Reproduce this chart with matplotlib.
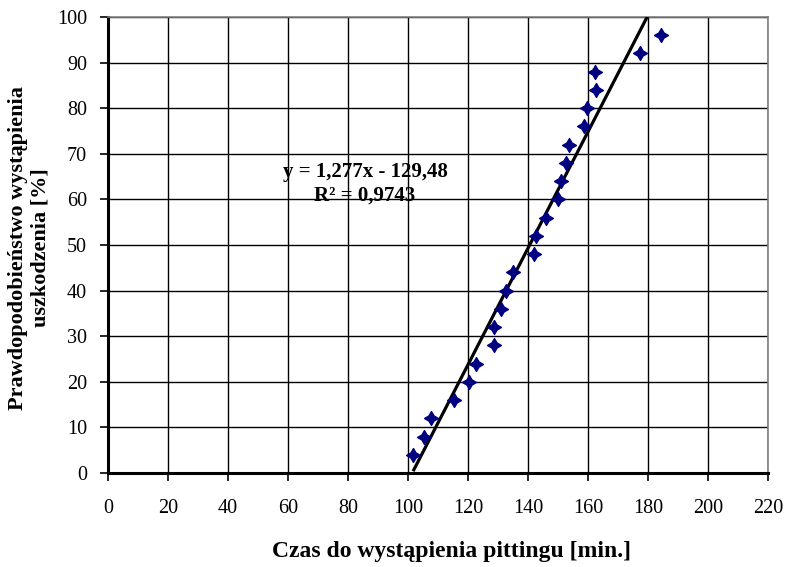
import numpy as np
import matplotlib
matplotlib.use("Agg")
import matplotlib.pyplot as plt
from matplotlib.path import Path

# Data
czas = [101.7, 105.3, 107.8, 115.2, 120.3, 122.8, 128.5, 128.5, 130.9, 132.8,
        135.0, 141.9, 142.8, 146.1, 150.0, 150.9, 152.8, 153.5, 158.7, 159.8,
        162.6, 162.4, 177.4, 184.2]
prawd = [4, 8, 12, 16, 20, 24, 28, 32, 36, 40, 44, 48, 52, 56, 60, 64, 68, 72,
         76, 80, 84, 88, 92, 96]
slope = 1.277
intercept = -129.48
x_ticks = list(range(0, 221, 20))
y_ticks = list(range(0, 101, 10))
eq1 = 'y = 1,277x - 129,48'
eq2 = 'R² = 0,9743'

plt.rcParams['font.family'] = ['Liberation Serif', 'DejaVu Serif']

fig = plt.figure(figsize=(7.87, 5.67), dpi=100)
ax = fig.add_axes([108/787, 1-473/567, 660/787, 456/567])

ax.set_xlim(0, 220)
ax.set_ylim(0, 100)
ax.set_xticks(x_ticks)
ax.set_yticks(y_ticks)
ax.grid(True, color='black', linewidth=1.0)
ax.set_axisbelow(True)

# star-like diamond marker
r = 0.37
verts = [(0, 1), (r, r), (1, 0), (r, -r), (0, -1), (-r, -r), (-1, 0), (-r, r), (0, 1)]
codes = [Path.MOVETO] + [Path.LINETO] * 7 + [Path.CLOSEPOLY]
marker = Path(verts, codes)

ax.plot(czas, prawd, linestyle='none', marker=marker, markersize=10,
        color='#000080', markeredgecolor='#000080', zorder=4)

xs = np.array([min(czas), max(czas)])
ax.plot(xs, slope * xs + intercept, color='black', linewidth=2.3, zorder=3,
        solid_capstyle='butt')

for s in ['left', 'bottom']:
    ax.spines[s].set_color('black')
    ax.spines[s].set_linewidth(2.2)
for s in ['top', 'right']:
    ax.spines[s].set_color('#808080')
    ax.spines[s].set_linewidth(1.2)

ax.tick_params(direction='out', length=6, width=1.2, labelsize=14.5, color='black')
ax.tick_params(axis='x', pad=13)
ax.tick_params(axis='y', pad=9)

fig.text(365/787, 1-172/567, eq1, ha='center', va='center', fontsize=15, fontweight='bold')
fig.text(365/787, 1-196/567, eq2, ha='center', va='center', fontsize=15, fontweight='bold')

fig.text(451/787, 1-552/567, 'Czas do wystąpienia pittingu [min.]', ha='center',
         va='center', fontsize=17, fontweight='bold')
fig.text(29/787, 1-248/567, 'Prawdopodobieństwo wystąpienia\nuszkodzenia [%]',
         ha='center', va='center', rotation=90, fontsize=16, fontweight='bold',
         linespacing=1.15, multialignment='center')

fig.savefig('out.png', dpi=100)
